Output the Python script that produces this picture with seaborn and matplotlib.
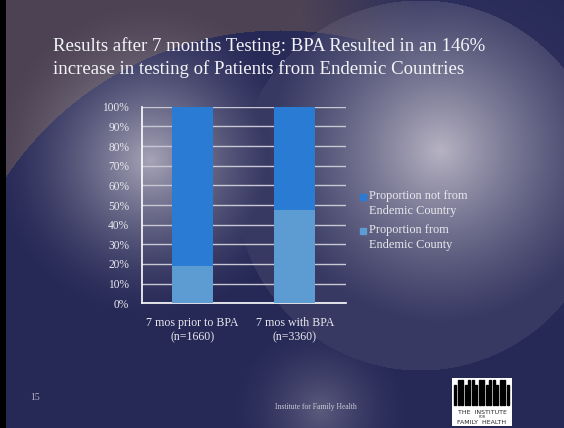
import numpy as np
import pandas as pd
import matplotlib
matplotlib.use("Agg")
import matplotlib.pyplot as plt
import matplotlib.patches as mpatches
import seaborn as sns

# data
categories = ["7 mos prior to BPA\n(n=1660)", "7 mos with BPA\n(n=3360)"]
pct_from = [19.2, 47.5]
pct_not_from = [80.8, 52.5]
series_names = ["Proportion not from\nEndemic Country", "Proportion from\nEndemic County"]
title_text = "Results after 7 months Testing: BPA Resulted in an 146%\nincrease in testing of Patients from Endemic Countries"

sns.set_style("white")
plt.rcParams["font.family"] = ["Liberation Serif", "DejaVu Serif"]

W, H = 564, 428
fig = plt.figure(figsize=(W / 100, H / 100), dpi=100)

# ---- slide background (navy with soft light spots) ----
yy, xx = np.mgrid[0:H, 0:W]
navy = np.array([38, 40, 86]) / 255.0
mauve = np.array([76, 66, 84]) / 255.0
light = np.array([190, 186, 200]) / 255.0
d_big = np.sqrt((xx - 280) ** 2 + (yy - 360) ** 2)
m = ((d_big > 330) * np.clip((420 - xx) / 120, 0, 1))[..., None]
img = navy * (1 - m) + mauve * m

def blob(cx, cy, r, strength):
    d = np.sqrt((xx - cx) ** 2 + (yy - cy) ** 2) / r
    return np.clip(1 - d, 0, 1) ** 1.5 * strength

w = np.zeros((H, W))
w = np.maximum(w, blob(150, 160, 160, 0.85))
# right spotlight inside a big circle with a visible edge
d_circle = np.sqrt((xx - 420) ** 2 + (yy - 185) ** 2)
right = blob(440, 150, 230, 0.95)
right = np.where(d_circle < 185, np.maximum(right, 0.12), right * 0.2)
w = np.maximum(w, right)
w = np.maximum(w, blob(320, 410, 90, 0.35))
img = img * (1 - w[..., None]) + light * w[..., None]
img[:, :6] = 0.0

bg = fig.add_axes([0, 0, 1, 1], zorder=0)
bg.imshow(img, aspect="auto", extent=[0, W, H, 0])
bg.set_xlim(0, W)
bg.set_ylim(H, 0)
bg.axis("off")

# ---- chart ----
ax = fig.add_axes([141.7 / W, 1 - 303.3 / H, (345.7 - 141.7) / W, (303.3 - 106.7) / H], zorder=2)
ax.patch.set_alpha(0)

df = pd.DataFrame({"cat": categories, "from": pct_from,
                   "total": [a + b for a, b in zip(pct_from, pct_not_from)]})
c_dark = "#2a7bd4"
c_light = "#5d9bd3"
sns.barplot(data=df, x="cat", y="total", color=c_dark, width=0.4, saturation=1,
            linewidth=0, ax=ax, zorder=3)
sns.barplot(data=df, x="cat", y="from", color=c_light, width=0.4, saturation=1,
            linewidth=0, ax=ax, zorder=3)

ax.set_xlim(-0.5, 1.5)
ax.set_ylim(0, 100)
ax.set_yticks(range(0, 101, 10))
ax.set_yticklabels([f"{v}%" for v in range(0, 101, 10)])
ax.set_xlabel("")
ax.set_ylabel("")
ax.grid(axis="y", color="#c8c8d4", linewidth=1, zorder=1)
ax.set_axisbelow(True)
for s in ["top", "right"]:
    ax.spines[s].set_visible(False)
for s in ["left", "bottom"]:
    ax.spines[s].set_color("white")
    ax.spines[s].set_linewidth(1.2)
ax.tick_params(axis="y", colors="#e8e8ee", labelsize=8.3, length=3, color="#c8c8d4", pad=6)
ax.tick_params(axis="x", colors="#e8e8ee", labelsize=8.6, length=0, pad=10)
ax.set_xticks([-0.5, 0.5, 1.5], minor=True)
ax.tick_params(axis="x", which="minor", length=3, color="white")

# legend: square aligned with the first line of each label
for i, (name, col) in enumerate(zip(series_names, [c_dark, c_light])):
    top = 190 + i * 34
    fig.patches.append(mpatches.Rectangle((360 / W, 1 - (top + 10) / H), 6 / W, 6 / H,
                                          transform=fig.transFigure, color=col, zorder=3))
    fig.text(369 / W, 1 - top / H, name, color="#e8e8ee", fontsize=8.8,
             va="top", ha="left", linespacing=1.35)

# ---- slide text ----
fig.text(53 / W, 1 - 37 / H, title_text, color="#f4f4f8", fontsize=13.5,
         va="top", ha="left", linespacing=1.36)
fig.text(30 / W, 1 - 397 / H, "15", color="#b8b8c8", fontsize=7, va="center")
fig.text(316 / W, 1 - 407 / H, "Institute for Family Health", color="#c8c8d8",
         fontsize=5.5, va="center", ha="center")

# logo box
logo = fig.add_axes([452 / W, 1 - 426 / H, 60 / W, 48 / H], zorder=3)
logo.set_xlim(0, 60)
logo.set_ylim(0, 48)
logo.add_patch(mpatches.Rectangle((0, 0), 60, 48, color="white"))
for i, bx in enumerate(np.arange(2, 58, 3.5)):
    logo.add_patch(mpatches.Rectangle((bx, 21), 2, 25 if i % 3 else 20, color="black"))
logo.text(30, 14, "THE  INSTITUTE", fontsize=4.5, ha="center", va="center", family="DejaVu Sans")
logo.text(30, 9.5, "FOR", fontsize=2.5, ha="center", va="center", family="DejaVu Sans")
logo.text(30, 4, "FAMILY  HEALTH", fontsize=4.5, ha="center", va="center", family="DejaVu Sans")
logo.axis("off")

fig.savefig("out.png", dpi=100)
